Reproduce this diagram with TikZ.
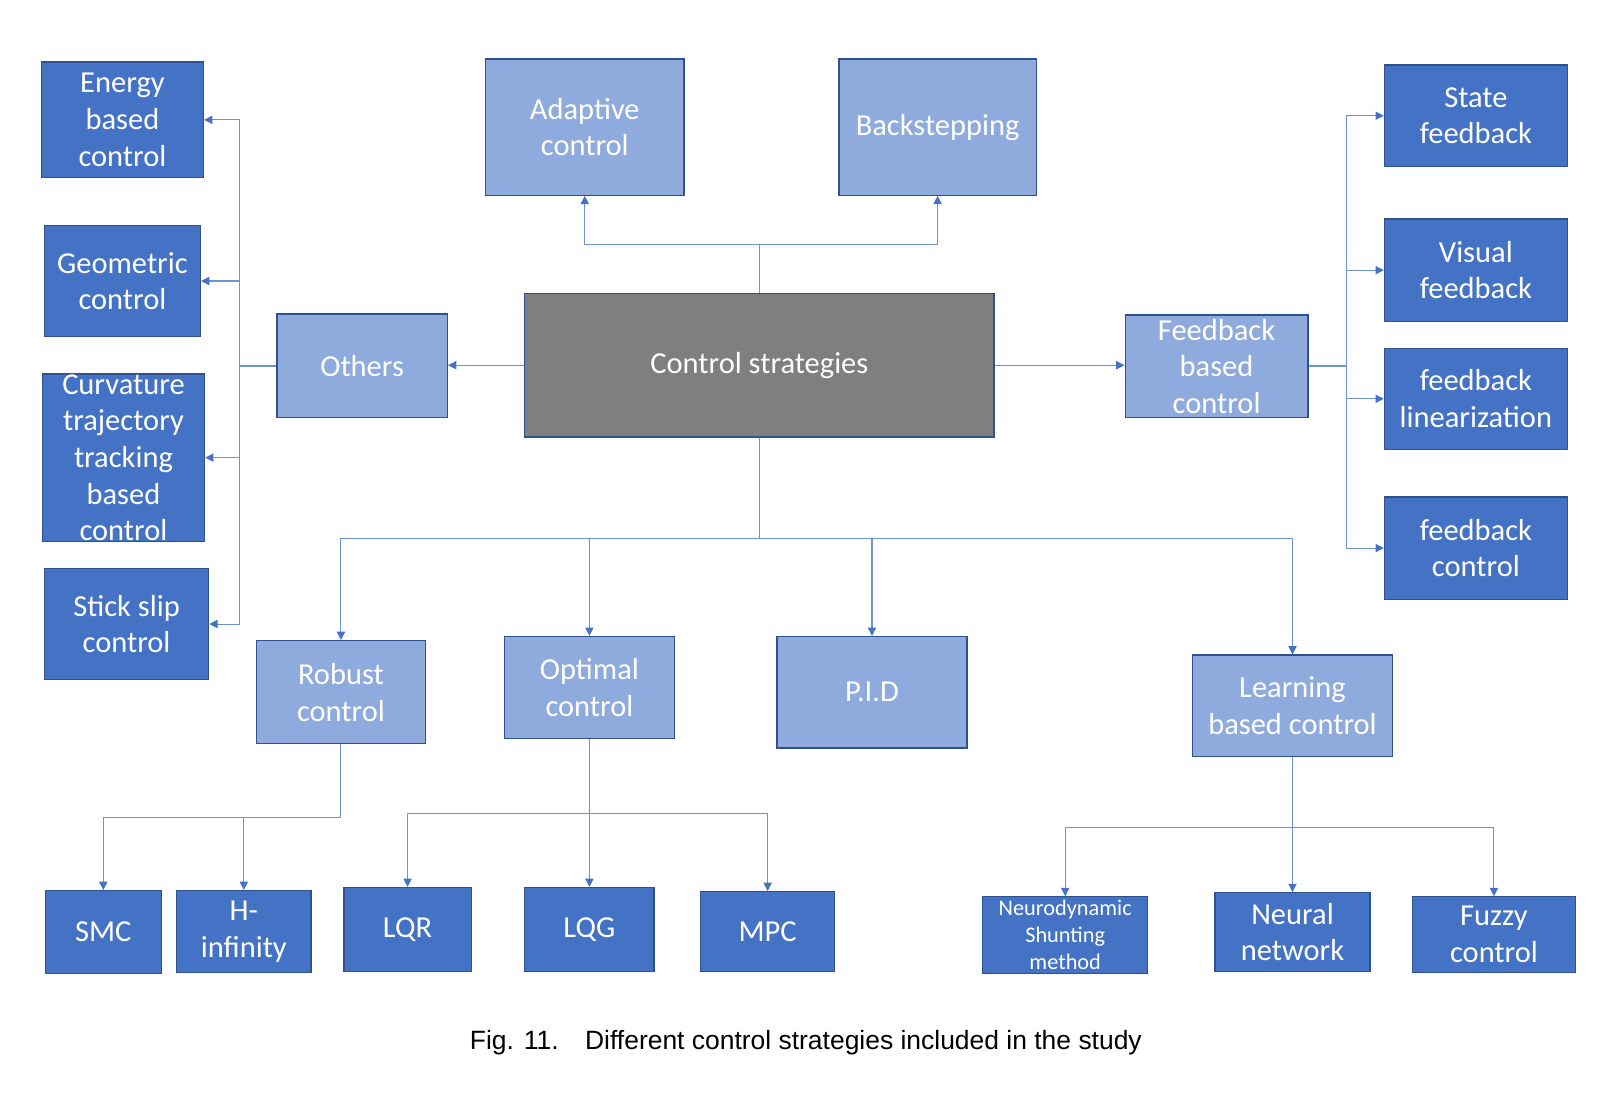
\documentclass[tikz,border=0pt]{standalone}
\usepackage{fontspec}
\setmainfont{Carlito}
\newfontfamily\capfont{Liberation Sans}
\usetikzlibrary{arrows.meta,fit}
\definecolor{dkfill}{HTML}{4472C4}
\definecolor{ltfill}{HTML}{8FAADC}
\definecolor{gyfill}{HTML}{7F7F7F}
\definecolor{bord}{HTML}{2F528F}
\definecolor{conncol}{HTML}{6F92D6}
\definecolor{tipcol}{HTML}{4472C4}
\tikzset{
  basebox/.style={draw=bord, line width=0.6pt, inner sep=0pt, rectangle},
  dark/.style={basebox, fill=dkfill},
  light/.style={basebox, fill=ltfill},
  grey/.style={basebox, fill=gyfill},
  lbl/.style={text=white, align=center, inner sep=0pt, font=\fontsize{14.75}{17.75}\selectfont},
  lblsmall/.style={text=white, align=center, inner sep=0pt, font=\fontsize{10.8}{13}\selectfont},
  conn/.style={draw=conncol, line width=0.5pt, -{Triangle[length=4pt,width=4pt,color=tipcol]}},
  trunk/.style={draw=conncol, line width=0.5pt}
}
\begin{document}
\begin{tikzpicture}[x=0.5pt,y=-0.5pt]
\useasboundingbox (0,0) rectangle (1568,1063);
% left column
\node[dark, fit={(40,60)(197,172)}, label={[lbl]center:{Energy\\based\\control}}] (energy) {};
\node[dark, fit={(43,218)(194,326)}, label={[lbl]center:{Geometric\\control}}] (geo) {};
\node[dark, fit={(41,362)(198,524)}, label={[lbl]center:{Curvature\\trajectory\\tracking\\based\\control}}] (curv) {};
\node[dark, fit={(43,550)(202,658)}, label={[lbl]center:{Stick slip\\control}}] (stick) {};
\node[light, fit={(268,304)(433,404)}, label={[lbl]center:{Others}}] (oth) {};
% top
\node[light, fit={(470,57)(662,189)}, label={[lbl]center:{Adaptive\\control}}] (ad) {};
\node[light, fit={(812,57)(1003,189)}, label={[lbl]center:{Backstepping}}] (bs) {};
\node[grey, fit={(508,284)(962,423)}, label={[lbl]center:{Control strategies}}] (cs) {};
% right
\node[light, fit={(1089,305)(1266,404)}, label={[lbl]center:{Feedback\\based\\control}}] (fb) {};
\node[dark, fit={(1340,63)(1517,161)}, label={[lbl]center:{State\\feedback}}] (sf) {};
\node[dark, fit={(1340,212)(1517,311)}, label={[lbl]center:{Visual\\feedback}}] (vf) {};
\node[dark, fit={(1340,337)(1517,435)}, label={[lbl]center:{feedback\\linearization}}] (fl) {};
\node[dark, fit={(1340,481)(1517,580)}, label={[lbl]center:{feedback\\control}}] (fc) {};
% middle row
\node[light, fit={(248,620)(412,720)}, label={[lbl]center:{Robust\\control}}] (rob) {};
\node[light, fit={(488,616)(653,715)}, label={[lbl]center:{Optimal\\control}}] (opt) {};
\node[light, fit={(752,616)(936,724)}, label={[lbl]center:{P.I.D}}] (pid) {};
\node[light, fit={(1154,634)(1348,732)}, label={[lbl]center:{Learning\\based control}}] (lbc) {};
% bottom row
\node[dark, fit={(44,862)(156,942)}, label={[lbl]center:{SMC}}] (smc) {};
\node[dark, fit={(171,862)(301,941)}, label={[lbl]center:{H-\\infinity}}] (hinf) {};
\node[dark, fit={(333,859)(456,940)}, label={[lbl]center:{LQR}}] (lqr) {};
\node[dark, fit={(508,859)(633,940)}, label={[lbl]center:{LQG}}] (lqg) {};
\node[dark, fit={(678,863)(808,940)}, label={[lbl]center:{MPC}}] (mpc) {};
\node[dark, fit={(951,868)(1111,942)}, label={[lblsmall]center:{Neurodynamic\\Shunting\\method}}] (neuro) {};
\node[dark, fit={(1176,864)(1326,940)}, label={[lbl]center:{Neural\\network}}] (neural) {};
\node[dark, fit={(1367,868)(1525,941)}, label={[lbl]center:{Fuzzy\\control}}] (fuzzy) {};
% caption
\node[inner sep=0pt, font=\capfont\fontsize{12.8}{15}\selectfont] (cap) at (780,1009) {Fig. 11.\hspace{1em}Different control strategies included in the study};
% connectors: top
\draw[conn] (cs.north) -- ++(0,-47) -| (ad.south);
\draw[conn] (cs.north) -- ++(0,-47) -| (bs.south);
% left / right
\draw[conn] (cs.west) -- (cs.west -| oth.east);
\draw[conn] (cs.east) -- (cs.east -| fb.west);
\draw[trunk, line width=1pt] (oth.west) -- ++(-36,0);
\draw[conn] (oth.west) -- ++(-36,0) |- (energy.east);
\draw[conn] (oth.west) -- ++(-36,0) |- (geo.east);
\draw[conn] (oth.west) -- ++(-36,0) |- (curv.east);
\draw[conn] (oth.west) -- ++(-36,0) |- (stick.east);
\draw[trunk, line width=1pt] (fb.east) -- ++(37,0);
\draw[conn] (fb.east) -- ++(37,0) |- (sf.west);
\draw[conn] (fb.east) -- ++(37,0) |- (vf.west);
\draw[conn] (fb.east) -- ++(37,0) |- (fl.west);
\draw[conn] (fb.east) -- ++(37,0) |- (fc.west);
% bottom from control strategies
\draw[conn] (cs.south) -- ++(0,98) -| (rob.north);
\draw[conn] (cs.south) -- ++(0,98) -| (opt.north);
\draw[conn] (cs.south) -- ++(0,98) -| (pid.north);
\draw[conn] (cs.south) -- ++(0,98) -| (lbc.north);
% robust
\draw[conn] (rob.south) -- ++(0,71) -| (smc.north);
\draw[conn] (rob.south) -- ++(0,71) -| (hinf.north);
% optimal
\draw[conn] (opt.south) -- ++(0,72) -| (lqr.north);
\draw[conn] (opt.south) -- ++(0,72) -| (lqg.north);
\draw[conn] (opt.south) -- ++(0,72) -| (mpc.north);
% learning
\draw[conn] (lbc.south) -- ++(0,68) -| (neuro.north);
\draw[conn] (lbc.south) -- ++(0,68) -| (neural.north);
\draw[conn] (lbc.south) -- ++(0,68) -| (fuzzy.north);
\end{tikzpicture}
\end{document}
